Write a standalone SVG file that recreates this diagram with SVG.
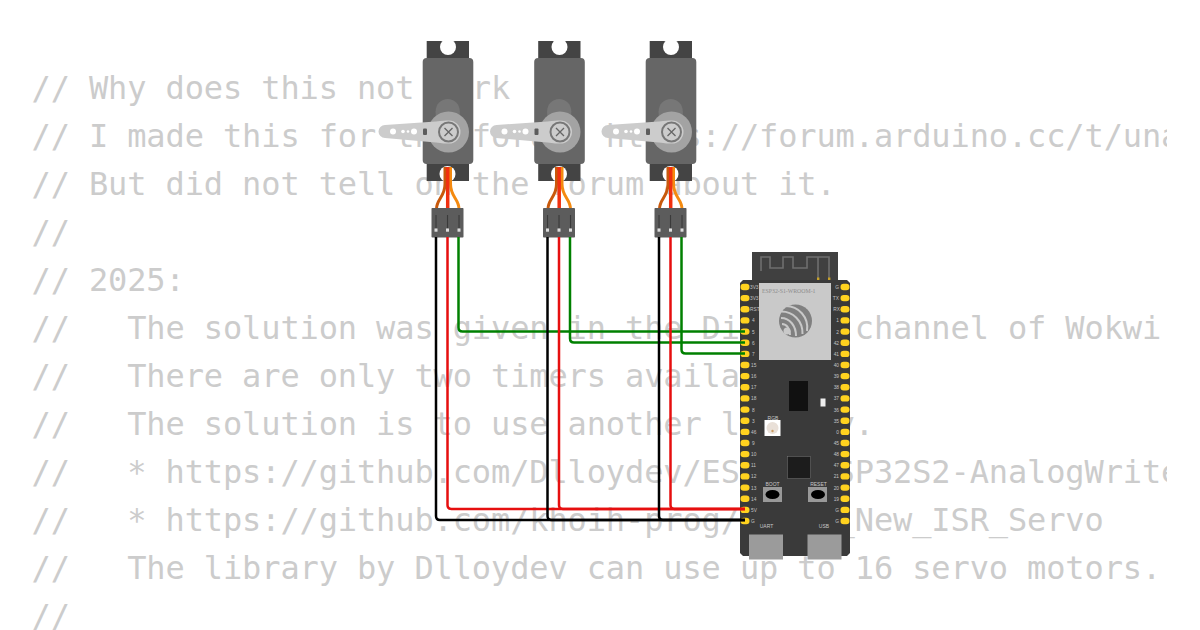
<svg xmlns="http://www.w3.org/2000/svg" xmlns:xlink="http://www.w3.org/1999/xlink" width="1200" height="630" viewBox="0 0 1200 630">
<style>
.code{font-family:"DejaVu Sans Mono",monospace;font-size:32px;letter-spacing:-0.12px;fill:#ccc;white-space:pre}
.w{fill:none;stroke-width:2.500;stroke-linejoin:round}
.pin{fill:#ffd21f}
.pl{font-family:"Liberation Sans",sans-serif;font-size:4.800px;fill:#c4c4c4}
.pr{font-family:"Liberation Sans",sans-serif;font-size:4.800px;fill:#c4c4c4;text-anchor:end}
.bl{font-family:"Liberation Sans",sans-serif;font-size:5px;fill:#c8c8c8;text-anchor:middle}
</style>
<defs>
<clipPath id="page"><rect x="0" y="0" width="1167" height="630"/></clipPath>
<g id="servo">
<path fill="#444" d="M426.700 41H469V181H426.700Z"/>
<circle cx="448" cy="47" r="8" fill="#fff"/>
<circle cx="447.500" cy="174" r="8" fill="#fff"/>
<rect x="422.700" y="58" width="50.600" height="106" rx="4" fill="#666"/>
<circle cx="447.700" cy="111" r="12" fill="#777"/>
<rect x="435.700" y="111" width="24" height="20" fill="#777"/>
<circle cx="448.500" cy="132" r="20.500" fill="#a3a3a3"/>
<path fill="#ccc" d="M385 125 L436 121.500 C442 120.500 446 120.500 449 120.500 A11.500 11.500 0 0 1 449 143.500 C446 143.500 442 143.500 436 142.500 L385 138 A6.500 6.500 0 0 1 385 125Z"/>
<circle cx="393" cy="131.500" r="3" fill="#fff"/>
<circle cx="403" cy="131.500" r="1.800" fill="#fff"/>
<circle cx="408" cy="131.500" r="1.300" fill="#fff"/>
<circle cx="414" cy="131.500" r="3" fill="#fff"/>
<rect x="423" y="128.500" width="4" height="6.500" rx="1" fill="#5c5c5c"/>
<circle cx="448.500" cy="132" r="9.500" fill="#ccc" stroke="#777" stroke-width="2"/>
<path d="M444.500 128L452.500 136M452.500 128L444.500 136" stroke="#666" stroke-width="1.300"/>
<path d="M445 167V184C445 197 436.500 199 436.500 209" fill="none" stroke="#c8590c" stroke-width="3"/>
<path d="M450.500 167V184C450.500 197 459 199 459 209" fill="none" stroke="#f48a10" stroke-width="3"/>
<path d="M447.700 167V209" fill="none" stroke="#f03010" stroke-width="3.500"/>
<rect x="431.500" y="208" width="32" height="29.500" rx="0.800" fill="#5c5c5c"/>
<path d="M436 215V228M447.500 215V228M459 215V228" stroke="#3a3a3a" stroke-width="1.100"/>
<rect x="434.500" y="228.500" width="3" height="3.200" fill="#ddd"/>
<rect x="446" y="228.500" width="3" height="3.200" fill="#ddd"/>
<rect x="457.500" y="228.500" width="3" height="3.200" fill="#ddd"/>
</g>
<rect id="p" class="pin" x="-4.500" y="-3.200" width="9" height="6.400" rx="3.200"/>
</defs>
<g id="code" clip-path="url(#page)">
<text class="code" x="31.500" y="99.300">// Why does this not work</text>
<text class="code" x="31.500" y="147.300">// I made this for the forum: https://forum.arduino.cc/t/una</text>
<text class="code" x="31.500" y="195.300">// But did not tell on the forum about it.</text>
<text class="code" x="31.500" y="243.300">//</text>
<text class="code" x="31.500" y="291.300">// 2025:</text>
<text class="code" x="31.500" y="339.300">//   The solution was given in the Discord channel of Wokwi</text>
<text class="code" x="31.500" y="387.300">//   There are only two timers available.</text>
<text class="code" x="31.500" y="435.300">//   The solution is to use another library.</text>
<text class="code" x="31.500" y="483.300">//   * https://github.com/Dlloydev/ESP32-ESP32S2-AnalogWrite</text>
<text class="code" x="31.500" y="531.300">//   * https://github.com/khoih-prog/ESP32_New_ISR_Servo</text>
<text class="code" x="31.500" y="579.300">//   The library by Dlloydev can use up to 16 servo motors.</text>
<text class="code" x="31.500" y="627.300">//</text>
</g>
<g id="servo1"><use href="#servo"/></g>
<g id="servo2"><use href="#servo" x="111.500"/></g>
<g id="servo3"><use href="#servo" x="223"/></g>
<g id="board">
<rect x="752" y="252" width="86" height="29" fill="#404040"/>
<path d="M761 271V257H770V268H783V257H793V268H807V257H829V279M818 257V279" fill="none" stroke="#6e6e6e" stroke-width="1.600"/>
<rect x="817" y="277.500" width="2.400" height="2.500" fill="#c9a227"/>
<rect x="828" y="277.500" width="2.400" height="2.500" fill="#c9a227"/>
<path d="M743 280H847L850 283V553L847 556H743L740 553V283Z" fill="#3a3a3a"/>
<rect x="759" y="283" width="72" height="77" fill="#c9c9c9"/>
<text x="762" y="293" font-family="Liberation Serif,serif" font-size="5.800" fill="#8c8c8c">ESP32-S1-WROOM-1</text>
<circle cx="795.500" cy="321" r="16.500" fill="#808080"/>
<path d="M784 306C799 305 809 318 807 331M780.500 311.500C793 311 803 321 802.500 334M781 318C790 318 796 326 796 336M782 324C787 324 790 329 790 335" fill="none" stroke="#c9c9c9" stroke-width="2"/>
<circle cx="787" cy="331" r="3.500" fill="#c9c9c9"/>
<rect x="789" y="381" width="19" height="30" fill="#111"/>
<rect x="820.500" y="398.500" width="5" height="8" fill="#eee"/>
<text class="bl" x="773" y="420">RGB</text>
<rect x="764.500" y="420" width="16" height="16" fill="#fff"/>
<circle cx="772.500" cy="428" r="6" fill="#e9e0d8"/>
<circle cx="772.500" cy="431" r="1.200" fill="#c99a60"/>
<rect x="787.500" y="456.500" width="23" height="22" fill="#1c1c1c" stroke="#888" stroke-width="0.400"/>
<text class="bl" x="772.500" y="486">BOOT</text>
<rect x="763" y="487" width="19" height="15" fill="#999"/>
<ellipse cx="772.500" cy="494.500" rx="7" ry="4.500" fill="#000"/>
<text class="bl" x="818.500" y="486">RESET</text>
<rect x="808" y="487" width="19" height="15" fill="#999"/>
<ellipse cx="818" cy="494.500" rx="7" ry="4.500" fill="#000"/>
<text class="bl" x="766.500" y="527.500">UART</text>
<text class="bl" x="824" y="527.500">USB</text>
<rect x="749" y="534.500" width="34" height="25" fill="#9b9b9b"/>
<rect x="807.500" y="534.500" width="34" height="25" fill="#9b9b9b"/>
<g>
<use href="#p" x="745" y="287"/><use href="#p" x="745" y="298.100"/><use href="#p" x="745" y="309.300"/><use href="#p" x="745" y="320.400"/><use href="#p" x="745" y="331.600"/><use href="#p" x="745" y="342.700"/><use href="#p" x="745" y="353.900"/><use href="#p" x="745" y="365"/><use href="#p" x="745" y="376.100"/><use href="#p" x="745" y="387.300"/><use href="#p" x="745" y="398.400"/><use href="#p" x="745" y="409.600"/><use href="#p" x="745" y="420.700"/><use href="#p" x="745" y="431.900"/><use href="#p" x="745" y="443"/><use href="#p" x="745" y="454.100"/><use href="#p" x="745" y="465.300"/><use href="#p" x="745" y="476.400"/><use href="#p" x="745" y="487.600"/><use href="#p" x="745" y="498.700"/><use href="#p" x="745" y="509.900"/><use href="#p" x="745" y="521"/>
<use href="#p" x="845" y="287"/><use href="#p" x="845" y="298.100"/><use href="#p" x="845" y="309.300"/><use href="#p" x="845" y="320.400"/><use href="#p" x="845" y="331.600"/><use href="#p" x="845" y="342.700"/><use href="#p" x="845" y="353.900"/><use href="#p" x="845" y="365"/><use href="#p" x="845" y="376.100"/><use href="#p" x="845" y="387.300"/><use href="#p" x="845" y="398.400"/><use href="#p" x="845" y="409.600"/><use href="#p" x="845" y="420.700"/><use href="#p" x="845" y="431.900"/><use href="#p" x="845" y="443"/><use href="#p" x="845" y="454.100"/><use href="#p" x="845" y="465.300"/><use href="#p" x="845" y="476.400"/><use href="#p" x="845" y="487.600"/><use href="#p" x="845" y="498.700"/><use href="#p" x="845" y="509.900"/><use href="#p" x="845" y="521"/>
</g>
<g class="pl">
<text x="750" y="289">3V3</text><text x="750" y="300">3V3</text><text x="750" y="311">RST</text><text x="752" y="322">4</text><text x="752" y="333.500">5</text><text x="752" y="344.500">6</text><text x="752" y="356">7</text><text x="751" y="367">15</text><text x="751" y="378">16</text><text x="751" y="389">17</text><text x="751" y="400">18</text><text x="752" y="411.500">8</text><text x="752" y="422.500">3</text><text x="751" y="434">46</text><text x="752" y="445">9</text><text x="751" y="456">10</text><text x="751" y="467">11</text><text x="751" y="478">12</text><text x="751" y="489.500">13</text><text x="751" y="500.500">14</text><text x="751" y="512">5V</text><text x="751" y="523">G</text>
</g>
<g class="pr">
<text x="839" y="289">G</text><text x="839" y="300">TX</text><text x="840" y="311">RX</text><text x="839" y="322">1</text><text x="839" y="333.500">2</text><text x="839" y="344.500">42</text><text x="839" y="356">41</text><text x="839" y="367">40</text><text x="839" y="378">39</text><text x="839" y="389">38</text><text x="839" y="400">37</text><text x="839" y="411.500">36</text><text x="839" y="422.500">35</text><text x="839" y="434">0</text><text x="839" y="445">45</text><text x="839" y="456">48</text><text x="839" y="467">47</text><text x="839" y="478">21</text><text x="839" y="489.500">20</text><text x="839" y="500.500">19</text><text x="839" y="512">G</text><text x="839" y="523">G</text>
</g>
</g>
<g id="connectors">
<path class="w" stroke="#008000" d="M458.500 237V327.500Q458.500 331.500 462.500 331.500H745"/>
<path class="w" stroke="#008000" d="M570 237V338.500Q570 342.500 574 342.500H745"/>
<path class="w" stroke="#008000" d="M681.500 237V349.500Q681.500 353.500 685.500 353.500H745"/>
<path class="w" stroke="#e60f0f" d="M447.500 237V505Q447.500 509 451.500 509H745"/>
<path class="w" stroke="#e60f0f" d="M559 237V505Q559 509 563 509H745"/>
<path class="w" stroke="#e60f0f" d="M670.500 237V505Q670.500 509 674.500 509H745"/>
<path class="w" stroke="#000" d="M436 237V516Q436 520 440 520H745"/>
<path class="w" stroke="#000" d="M547.500 237V516Q547.500 520 551.500 520H745"/>
<path class="w" stroke="#000" d="M659 237V516Q659 520 663 520H745"/>
</g>
</svg>
